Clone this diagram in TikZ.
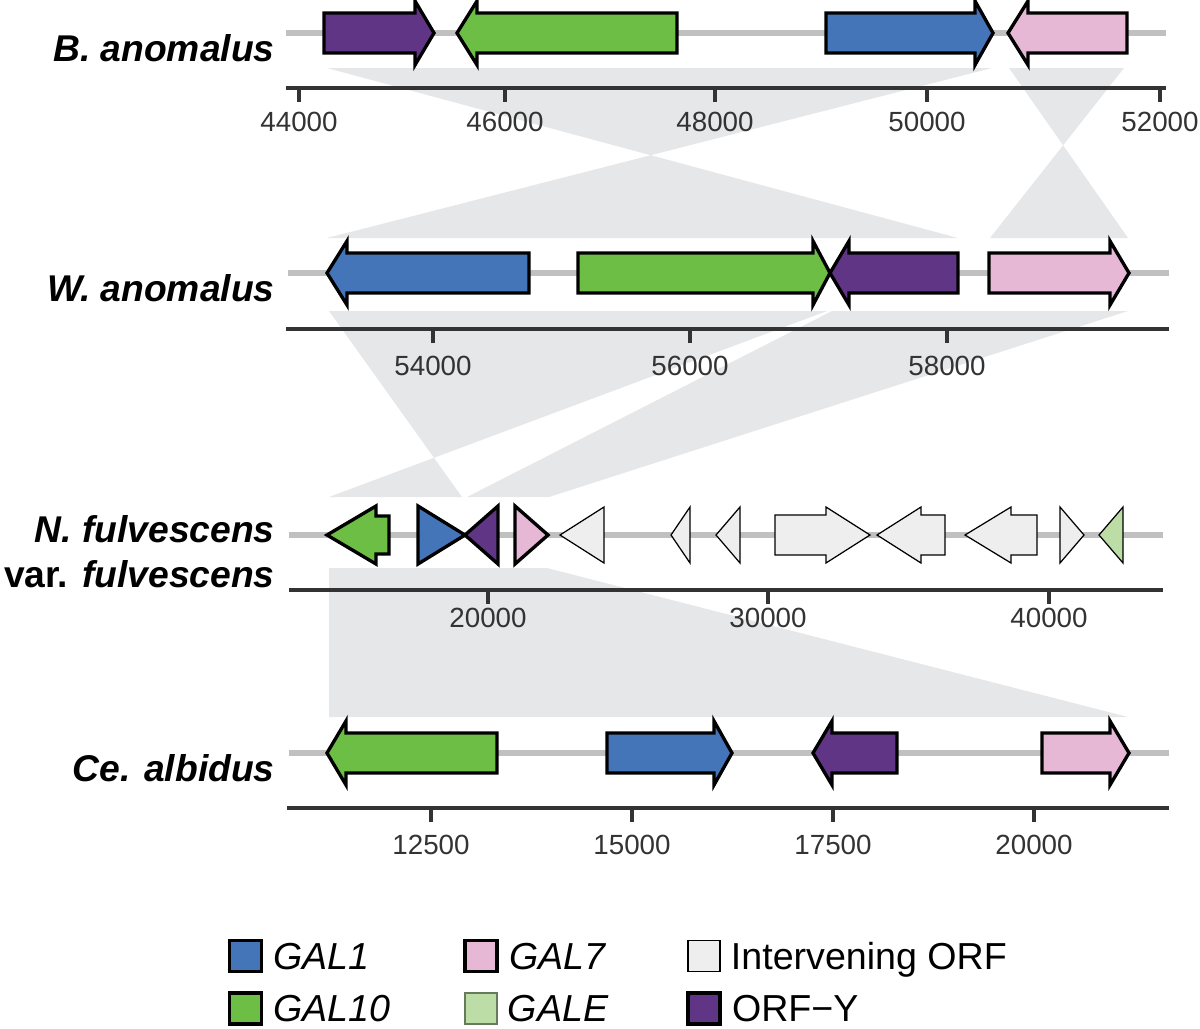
\documentclass[tikz,border=0pt]{standalone}
\usepackage{fontspec}
\setmainfont{Liberation Sans}
\usepackage{xcolor}
\usepackage{tikz}
\usetikzlibrary{calc, positioning}

\definecolor{galone}{RGB}{69,117,185}
\definecolor{galten}{RGB}{109,190,69}
\definecolor{galseven}{RGB}{230,184,214}
\definecolor{galE}{RGB}{188,222,166}
\definecolor{orfy}{RGB}{97,53,133}
\definecolor{interv}{RGB}{238,238,238}
\definecolor{ribbon}{RGB}{230,231,232}
\definecolor{trackgrey}{RGB}{192,192,192}
\definecolor{axisgrey}{RGB}{51,51,51}

\begin{document}
\begin{tikzpicture}[x=0.02cm, y=-0.02cm,
    track/.style={draw=trackgrey, line width=3.4pt},
    axisline/.style={draw=axisgrey, line width=1.9pt},
    gene/.style={draw=black, line width=1.9pt},
    thingene/.style={draw=black, line width=0.7pt},
    species/.style={anchor=base east, inner sep=0pt,
        font=\fontsize{21.2}{24}\selectfont\bfseries\itshape},
    ticklabel/.style={inner sep=0pt, text=axisgrey,
        font=\fontsize{15.8}{18}\selectfont},
    legbox/.style={draw=black, line width=1.9pt, minimum width=0.64cm,
        minimum height=0.62cm, inner sep=0pt},
    legtext/.style={right=0.2cm of #1, anchor=west, inner sep=0pt,
        text height=15.3pt, text depth=0pt,
        font=\fontsize{21.4}{24}\selectfont}]
    \useasboundingbox (0,0) rectangle (1200,1028);

    % Grey ribbons between the clusters
    \fill[ribbon] (327,68) -- (992,68) -- (327,238) -- (958,238) -- cycle;
    \fill[ribbon] (1009,68) -- (1124,68) -- (990,238) -- (1128,238) -- cycle;
    \fill[ribbon] (329,311) -- (827,311) -- (329,497) -- (462,497) -- cycle;
    \fill[ribbon] (832,311) -- (1128,311) -- (549,497) -- (467,497) -- cycle;
    \fill[ribbon] (329,568) -- (547,568) -- (1128,717) -- (329,717) -- cycle;

    % Track lines
    \draw[track] (286,33) -- (1166,33);
    \draw[track] (288,273) -- (1169,273);
    \draw[track] (289,535) -- (1163,535);
    \draw[track] (289,753) -- (1169,753);

    % Axes with ticks
    \draw[axisline] (286,88) -- (1166,88);
    \foreach \x/\l [count=\i] in {299/44000, 505/46000, 715/48000, 927/50000, 1160/52000} {
        \draw[axisline] (\x,88) -- (\x,102);
        \node[ticklabel] (ba\i) at (\x,122) {\l};
    }
    \draw[axisline] (286,329) -- (1169,329);
    \foreach \x/\l [count=\i] in {433/54000, 690/56000, 947/58000} {
        \draw[axisline] (\x,329) -- (\x,343);
        \node[ticklabel] (wa\i) at (\x,366) {\l};
    }
    \draw[axisline] (289,590) -- (1163,590);
    \foreach \x/\l [count=\i] in {488/20000, 768/30000, 1049/40000} {
        \draw[axisline] (\x,590) -- (\x,604);
        \node[ticklabel] (nf\i) at (\x,618) {\l};
    }
    \draw[axisline] (287,808) -- (1169,808);
    \foreach \x/\l [count=\i] in {431/12500, 632/15000, 833/17500, 1034/20000} {
        \draw[axisline] (\x,808) -- (\x,822);
        \node[ticklabel] (ca\i) at (\x,845) {\l};
    }

    % Genes of B. anomalus
    \def\y{33}
    \foreach \s/\h/\t/\c in {324/415/434/orfy, 677/477/457/galten,
                             826/975/993/galone, 1127/1028/1008/galseven}
        \draw[gene, fill=\c] (\s,\y-20) -- (\h,\y-20) -- (\h,\y-32) -- (\t,\y)
            -- (\h,\y+32) -- (\h,\y+20) -- (\s,\y+20) -- cycle;

    % Genes of W. anomalus
    \def\y{273}
    \foreach \s/\h/\t/\c in {529/347/327/galone, 578/813/830/galten,
                             958/849/830/orfy, 989/1110/1129/galseven}
        \draw[gene, fill=\c] (\s,\y-20) -- (\h,\y-20) -- (\h,\y-32) -- (\t,\y)
            -- (\h,\y+32) -- (\h,\y+20) -- (\s,\y+20) -- cycle;

    % Genes of N. fulvescens
    \def\y{535}
    \draw[gene, fill=galten] (389,\y-19) -- (376,\y-19) -- (376,\y-29) -- (327,\y)
        -- (376,\y+29) -- (376,\y+19) -- (389,\y+19) -- cycle;
    \foreach \h/\t/\c in {418/465/galone, 498/465/orfy, 515/548/galseven}
        \draw[gene, fill=\c] (\h,\y-29) -- (\t,\y) -- (\h,\y+29) -- cycle;
    \foreach \h/\t/\c in {604/560/interv, 690/671/interv, 740/716/interv,
                          1060/1084/interv, 1123/1099/galE}
        \draw[thingene, fill=\c] (\h,\y-28) -- (\t,\y) -- (\h,\y+28) -- cycle;
    \foreach \s/\h/\t in {775/826/870, 945/921/877, 1037/1011/965}
        \draw[thingene, fill=interv] (\s,\y-20) -- (\h,\y-20) -- (\h,\y-28) -- (\t,\y)
            -- (\h,\y+28) -- (\h,\y+20) -- (\s,\y+20) -- cycle;

    % Genes of Ce. albidus
    \def\y{753}
    \foreach \s/\h/\t/\c in {497/346/327/galten, 607/714/732/galone,
                             897/832/813/orfy, 1042/1110/1129/galseven}
        \draw[gene, fill=\c] (\s,\y-20) -- (\h,\y-20) -- (\h,\y-32) -- (\t,\y)
            -- (\h,\y+32) -- (\h,\y+20) -- (\s,\y+20) -- cycle;

    % Species names
    \node[species] (bano) at (275,61) {B. anomalus};
    \node[species] (wano) at (275,301) {W. anomalus};
    \node[species] (nful) at (275,542) {N. fulvescens};
    \node[species] (nvar) at (275,587) {\textup{var.} fulvescens};
    \node[species] (calb) at (275,781) {Ce. albidus};

    % Legend
    \node[legbox, fill=galone] (kgalone) at (245.5,956) {};
    \node[legbox, fill=galten] (kgalten) at (245.5,1008.5) {};
    \node[legbox, fill=galseven] (kgalseven) at (481,956) {};
    \node[legbox, fill=galE, draw=galE!55!black, line width=0.7pt] (kgale) at (481,1008.5) {};
    \node[legbox, fill=interv, line width=0.7pt] (kinterv) at (704,956) {};
    \node[legbox, fill=orfy] (korfy) at (704,1008.5) {};
    \node[legtext=kgalone] (lgalone) {\textit{GAL1}};
    \node[legtext=kgalten] (lgalten) {\textit{GAL10}};
    \node[legtext=kgalseven] (lgalseven) {\textit{GAL7}};
    \node[legtext=kgale] (lgale) {\textit{GALE}};
    \node[legtext=kinterv] (linterv) {Intervening ORF};
    \node[legtext=korfy] (lorfy) {ORF−Y};

\end{tikzpicture}
\end{document}
